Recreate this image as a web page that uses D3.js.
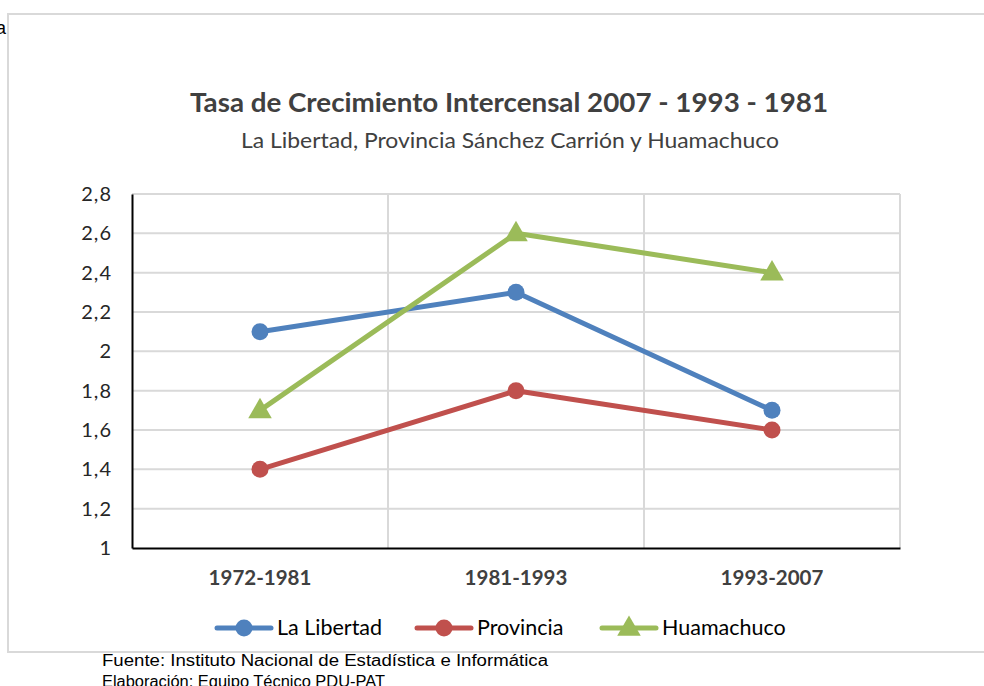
<!DOCTYPE html>
<html>
<head>
<meta charset="utf-8">
<script src="https://cdn.jsdelivr.net/npm/d3@7"></script>
<style>
  body { margin: 0; background: #fff; }
  svg { display: block; }
</style>
</head>
<body>
<svg id="chart"></svg>
<script>
// Data
const periods = ["1972-1981", "1981-1993", "1993-2007"];
const laLibertad = [2.1, 2.3, 1.7];
const provincia = [1.4, 1.8, 1.6];
const huamachuco = [1.7, 2.6, 2.4];
const yTicks = [1, 1.2, 1.4, 1.6, 1.8, 2, 2.2, 2.4, 2.6, 2.8];

const series = [
    { name: "La Libertad", values: laLibertad, color: "#4F81BD", marker: "circle" },
    { name: "Provincia", values: provincia, color: "#C0504D", marker: "circle" },
    { name: "Huamachuco", values: huamachuco, color: "#9BBB59", marker: "triangle" }
];

const width = 984;
const height = 686;
const font = "Lato, 'Open Sans', sans-serif";

const svg = d3.select("#chart")
    .attr("width", width)
    .attr("height", height);

// stray text behind the chart frame
svg.append("text")
    .attr("x", -8).attr("y", 34)
    .attr("font-family", "Arial, 'Liberation Sans', sans-serif")
    .attr("font-size", 18)
    .attr("fill", "#000")
    .text("la");

// chart frame
svg.append("rect")
    .attr("x", 8).attr("y", 14)
    .attr("width", 990).attr("height", 638)
    .attr("fill", "#fff")
    .attr("stroke", "#d9d9d9")
    .attr("stroke-width", 2);

// Title
svg.append("text")
    .attr("x", 190).attr("y", 112)
    .attr("font-family", font)
    .attr("font-weight", "bold")
    .attr("font-size", 27)
    .attr("fill", "#404040")
    .attr("textLength", 638)
    .attr("lengthAdjust", "spacingAndGlyphs")
    .text("Tasa de Crecimiento Intercensal 2007  - 1993  - 1981");

svg.append("text")
    .attr("x", 241).attr("y", 148)
    .attr("font-family", font)
    .attr("font-size", 22)
    .attr("fill", "#404040")
    .attr("textLength", 538)
    .attr("lengthAdjust", "spacingAndGlyphs")
    .text("La Libertad, Provincia Sánchez Carrión y Huamachuco");

// Scales
const plot = { left: 132, right: 900, top: 194, bottom: 548 };

const x = d3.scaleBand()
    .domain(periods)
    .range([plot.left, plot.right]);

const y = d3.scaleLinear()
    .domain([1, 2.8])
    .range([plot.bottom, plot.top]);

// Horizontal gridlines
svg.append("g")
    .selectAll("line")
    .data(yTicks.slice(1))
    .join("line")
    .attr("x1", plot.left).attr("x2", plot.right)
    .attr("y1", d => y(d)).attr("y2", d => y(d))
    .attr("stroke", "#d9d9d9")
    .attr("stroke-width", 2);

// Vertical gridlines at category boundaries
svg.append("g")
    .selectAll("line")
    .data(periods.slice(1).concat(["end"]))
    .join("line")
    .attr("x1", (d, i) => i < 2 ? x(d) : plot.right)
    .attr("x2", (d, i) => i < 2 ? x(d) : plot.right)
    .attr("y1", plot.top).attr("y2", plot.bottom)
    .attr("stroke", "#d9d9d9")
    .attr("stroke-width", 2);

// Axes
const yAxis = d3.axisLeft(y)
    .tickValues(yTicks)
    .tickSize(0)
    .tickPadding(20)
    .tickFormat(d => String(d).replace(".", ","));

svg.append("g")
    .attr("transform", `translate(${plot.left},0)`)
    .call(yAxis)
    .call(g => g.select(".domain").attr("stroke", "#000").attr("stroke-width", 2))
    .call(g => g.selectAll("text")
        .attr("font-family", font)
        .attr("font-size", 20)
        .attr("letter-spacing", 1)
        .attr("fill", "#262626"));

const xAxis = d3.axisBottom(x).tickSize(0).tickPadding(22);

svg.append("g")
    .attr("transform", `translate(0,${plot.bottom})`)
    .call(xAxis)
    .call(g => g.select(".domain").attr("stroke", "#000").attr("stroke-width", 2))
    .call(g => g.selectAll("text")
        .attr("font-family", font)
        .attr("font-weight", "bold")
        .attr("font-size", 20.5)
        .attr("fill", "#404040"));

// Lines
const line = d3.line()
    .x((d, i) => x(periods[i]) + x.bandwidth() / 2)
    .y(d => y(d));

const tri = d3.symbol().type(d3.symbolTriangle).size(240);

function drawMarker(g, s, cx, cy) {
    if (s.marker === "circle") {
        g.append("circle")
            .attr("cx", cx).attr("cy", cy).attr("r", 8.5)
            .attr("fill", s.color);
    } else {
        g.append("path")
            .attr("d", tri())
            .attr("transform", `translate(${cx},${cy + 1})`)
            .attr("fill", s.color);
    }
}

series.forEach(s => {
    const g = svg.append("g");
    g.append("path")
        .datum(s.values)
        .attr("d", line)
        .attr("fill", "none")
        .attr("stroke", s.color)
        .attr("stroke-width", 5)
        .attr("stroke-linejoin", "round")
        .attr("stroke-linecap", "round");
    s.values.forEach((v, i) => {
        drawMarker(g, s, x(periods[i]) + x.bandwidth() / 2, y(v));
    });
});

// Legend
const legendX = [217, 417, 602];
series.forEach((s, i) => {
    const g = svg.append("g").attr("transform", `translate(${legendX[i]},628)`);
    g.append("line")
        .attr("x1", 0).attr("x2", 54)
        .attr("stroke", s.color)
        .attr("stroke-width", 5)
        .attr("stroke-linecap", "round");
    drawMarker(g, s, 27, 0);
    g.append("text")
        .attr("x", 60).attr("y", 7)
        .attr("font-family", font)
        .attr("font-size", 21.5)
        .attr("fill", "#000")
        .text(s.name);
});

// Footer
const foot = svg.append("g")
    .attr("font-family", "Arial, 'Liberation Sans', sans-serif")
    .attr("font-size", 16)
    .attr("fill", "#000");
foot.append("text").attr("x", 102).attr("y", 666)
    .attr("textLength", 446)
    .attr("lengthAdjust", "spacingAndGlyphs")
    .text("Fuente: Instituto Nacional de Estadística e Informática");
foot.append("text").attr("x", 102).attr("y", 687)
    .attr("textLength", 283)
    .attr("lengthAdjust", "spacingAndGlyphs")
    .text("Elaboración: Equipo Técnico PDU-PAT");
</script>
</body>
</html>
